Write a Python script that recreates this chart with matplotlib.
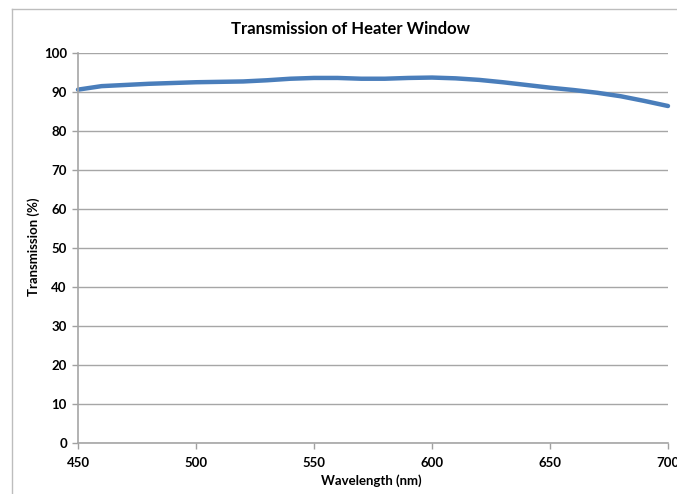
import numpy as np
import matplotlib
matplotlib.use("Agg")
import matplotlib.pyplot as plt
from matplotlib.lines import Line2D

wavelength = [450, 460, 470, 480, 490, 500, 510, 520, 530, 540, 550, 560, 570,
              580, 590, 600, 610, 620, 630, 640, 650, 660, 670, 680, 690, 700]
transmission = [90.6, 91.5, 91.8, 92.1, 92.3, 92.5, 92.6, 92.7, 93.0, 93.4, 93.6, 93.6, 93.4,
                93.4, 93.6, 93.7, 93.5, 93.1, 92.5, 91.8, 91.1, 90.5, 89.8, 88.9, 87.7, 86.4]
x_ticks = [450, 500, 550, 600, 650, 700]
y_ticks = [0, 10, 20, 30, 40, 50, 60, 70, 80, 90, 100]

plt.rcParams['font.family'] = ['Lato', 'DejaVu Sans']
plt.rcParams['font.weight'] = 'bold'

fig = plt.figure(figsize=(6.77, 4.94), dpi=100)
ax = fig.add_axes([0.1152, 0.1038, 0.8715, 0.7889])

ax.plot(wavelength, transmission, color='#4a7ebb', lw=3.2, solid_capstyle='round',
        solid_joinstyle='round', clip_on=False)

ax.set_xlim(450, 700)
ax.set_ylim(0, 100)
ax.set_xticks(x_ticks)
ax.set_yticks(y_ticks)
ax.tick_params(axis='both', direction='out', length=4, color='#a0a0a0', width=1,
               labelsize=9.5)
ax.tick_params(axis='x', pad=6)
ax.tick_params(axis='y', pad=4)
for lab in ax.get_xticklabels() + ax.get_yticklabels():
    lab.set_fontweight('bold')
ax.grid(axis='y', color='#a6a6a6', lw=1)
ax.set_axisbelow(True)
for side in ['top', 'right']:
    ax.spines[side].set_visible(False)
for side in ['left', 'bottom']:
    ax.spines[side].set_color('#a6a6a6')
    ax.spines[side].set_linewidth(1.2)

fig.text(0.517, 0.942, 'Transmission of Heater Window', ha='center', va='center',
         fontsize=12, fontweight='bold')
fig.text(0.549, 0.028, 'Wavelength (nm)', ha='center', va='center',
         fontsize=9.5, fontweight='bold')
fig.text(0.049, 0.5, 'Transmission (%)', ha='center', va='center', rotation=90,
         fontsize=9.5, fontweight='bold')

# chart border (cut off at right and bottom like the screenshot)
fx0 = 12 / 677
fy0 = 1 - 9 / 494
fig.add_artist(Line2D([fx0, fx0], [0, fy0], transform=fig.transFigure, color='#bdbdbd', lw=1))
fig.add_artist(Line2D([fx0, 1], [fy0, fy0], transform=fig.transFigure, color='#bdbdbd', lw=1))

fig.savefig('out.png', dpi=100)
